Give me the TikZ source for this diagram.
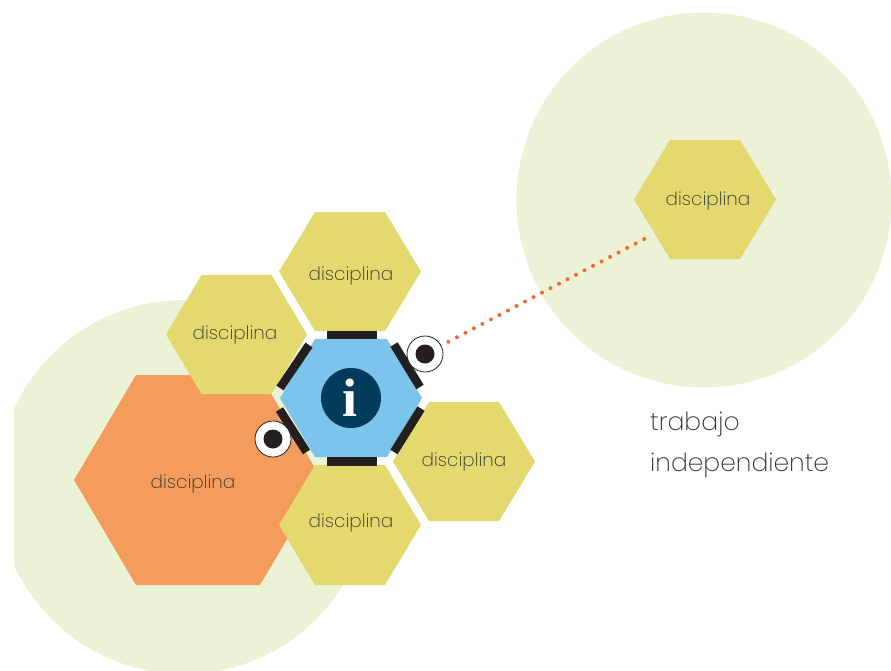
\documentclass[tikz,border=0pt]{standalone}
\usepackage{fontspec}
\setmainfont{Poppins}[UprightFont=* ExtraLight]
\newfontfamily\iserif{Liberation Serif}[Scale=1]
\definecolor{pale}{HTML}{EBF2D6}
\definecolor{hexy}{HTML}{E3D96E}
\definecolor{hexo}{HTML}{F39C5B}
\definecolor{hexb}{HTML}{7DC4EC}
\definecolor{navy}{HTML}{003B5C}
\definecolor{dots}{HTML}{F26B2E}
\definecolor{ink}{HTML}{333333}
\definecolor{barc}{HTML}{231F20}
\tikzset{
  lbl/.style={text=ink,font=\fontsize{18.4}{20}\selectfont,inner sep=0pt},
  bar/.style={draw=barc,line width=8.5pt},
  bigc/.style={fill=pale,draw=none},
  target/.style={circle,draw=barc,fill=white,line width=0.8pt,minimum size=36pt,inner sep=0pt},
  bull/.style={circle,fill=barc,minimum size=19pt,inner sep=0pt},
}
% name, cx, cy, half width, half height, half top, colour, text
\newcommand{\hexcell}[8]{%
  \fill[#7] ({#2-#4},#3) -- ({#2-#6},{#3-#5}) -- ({#2+#6},{#3-#5}) -- ({#2+#4},#3)
     -- ({#2+#6},{#3+#5}) -- ({#2-#6},{#3+#5}) -- cycle;
  \node[lbl] (#1) at (#2,#3) {#8};
}
\begin{document}
\begin{tikzpicture}[x=1pt,y=-1pt]
\useasboundingbox (0,0) rectangle (891,670);
\begin{scope}
\clip (14,0) rectangle (891,670);
\fill[bigc] (184,487) circle[radius=187];
\fill[bigc] (704,200) circle[radius=187.5];
\end{scope}
\hexcell{ho}{198}{480}{124}{105}{62}{hexo}{}
\hexcell{hl}{236.5}{334.5}{70.5}{59.5}{35}{hexy}{}
\hexcell{ht}{350}{271.5}{71}{59.5}{35}{hexy}{}
\hexcell{hb}{350}{525}{71}{60}{35}{hexy}{}
\hexcell{hd}{464}{461.5}{71}{59.5}{35}{hexy}{}
\hexcell{hr}{705}{199.5}{71}{59.5}{35}{hexy}{}
\hexcell{hc}{351}{398}{71}{59}{36}{hexb}{}
\node[lbl] at (193,484) {disciplina};
\node[lbl] at (235,335) {disciplina};
\node[lbl] at (351,276) {disciplina};
\node[lbl] at (351,523) {disciplina};
\node[lbl] at (464,462) {disciplina};
\node[lbl] at (708,201) {disciplina};
\draw[bar] (327,335) -- (377,335);
\draw[bar] (327,461.5) -- (377,461.5);
\draw[bar] (394,344.5) -- (420,387);
\draw[bar] (421,408.5) -- (394,452);
\draw[bar] (309,345) -- (280,388);
\draw[bar] (279.5,409.5) -- (306.5,452);
\node[circle,fill=navy,minimum size=60pt,inner sep=0pt] (info) at (351,398) {};
\node[text=white,inner sep=0pt,font=\iserif\bfseries\fontsize{54}{54}\selectfont] at (350,398) {i};
\node[target] (p1) at (425,354) {};
\node[bull] at (p1) {};
\node[target] (p2) at (273,439) {};
\node[bull] at (p2) {};
\coordinate (de) at (650,236);
\draw[dots,line width=4pt,line cap=round,dash pattern=on 0.01pt off 9.6pt,shorten <=8pt] (p1) -- (de);
\node[lbl,anchor=west,font=\fontsize{25}{41}\selectfont,align=left] (tr) at (650,445) {trabajo\\independiente};
\end{tikzpicture}
\end{document}
